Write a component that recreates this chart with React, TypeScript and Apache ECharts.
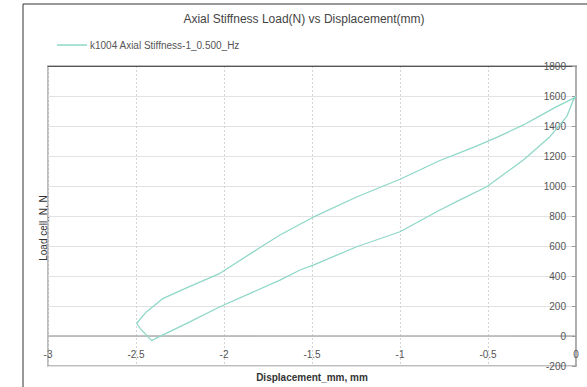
import React, { useEffect, useRef } from "react";
import * as echarts from "echarts";

const titleText = "Axial Stiffness Load(N) vs Displacement(mm)";
const seriesName = "k1004 Axial Stiffness-1_0.500_Hz";
const xAxisName = "Displacement_mm, mm";
const yAxisName = "Load cell_N, N";

// upper branch: from the lower-left tip to the peak
const upperX = [-2.496, -2.44, -2.345, -2.2, -2.023, -1.795, -1.682, -1.568, -1.493, -1.25, -1.0, -0.773, -0.659, -0.583, -0.45, -0.299, -0.2, -0.11, -0.015, 0];
const upperY = [85, 162, 251, 327, 418, 590, 673, 745, 792, 925, 1045, 1170, 1222, 1258, 1324, 1407, 1471, 1529, 1584, 1600];
// lower branch: from the peak back to the lower-left tip
const lowerX = [-0.015, -0.053, -0.148, -0.299, -0.507, -0.659, -0.773, -1.0, -1.246, -1.493, -1.568, -1.682, -2.023, -2.2, -2.39, -2.411, -2.477, -2.496];
const lowerY = [1573, 1462, 1329, 1173, 995, 907, 840, 695, 595, 473, 440, 373, 195, 91, -18, -31, 51, 85];

export default function App() {
  const ref = useRef<HTMLDivElement>(null);
  useEffect(() => {
    if (!ref.current) return;
    const chart = echarts.init(ref.current, null, { renderer: "svg" });
    const data: number[][] = [];
    upperX.forEach((x, i) => data.push([x, upperY[i]]));
    lowerX.forEach((x, i) => data.push([x, lowerY[i]]));
    const font = "'Liberation Sans', Arial, sans-serif";
    chart.setOption({
      animation: false,
      backgroundColor: "#ffffff",
      textStyle: { fontFamily: font },
      grid: {
        left: 48,
        right: 11,
        top: 66,
        bottom: 21,
        outerBoundsMode: "none",
        containLabel: false,
        show: true,
        borderColor: "#a8a8a8",
        borderWidth: 1.5,
        backgroundColor: "transparent",
      },
      legend: {
        left: 52,
        top: 35,
        itemWidth: 30,
        itemHeight: 1.5,
        itemGap: 4,
        icon: "rect",
        textStyle: { fontSize: 10, color: "#555", fontFamily: font, padding: [0, 0, 0, -2] },
        data: [seriesName],
      },
      xAxis: [
        {
          type: "value",
          min: -3,
          max: 0,
          interval: 0.5,
          axisLine: { show: true, onZero: true, lineStyle: { color: "#b0b0b0", width: 1.5 } },
          axisTick: { show: false },
          axisLabel: { margin: -17, fontSize: 10, color: "#555", fontFamily: font },
          splitLine: { show: true, lineStyle: { color: "#d4d4d4", type: [2, 2], width: 1 } },
        },
        {
          type: "value",
          min: -3,
          max: 0,
          position: "top",
          axisLine: { show: true, onZero: false, lineStyle: { color: "#555", width: 1 } },
          axisTick: { show: false },
          axisLabel: { show: false },
          splitLine: { show: false },
        },
      ],
      yAxis: {
        type: "value",
        min: -200,
        max: 1800,
        interval: 200,
        position: "right",
        axisLine: { show: true, onZero: false, lineStyle: { color: "#a8a8a8", width: 1.5 } },
        axisTick: { show: true, inside: true, length: 4, lineStyle: { color: "#999" } },
        axisLabel: {
          inside: true,
          margin: 10,
          fontSize: 10,
          color: "#555",
          fontFamily: font,
          formatter: (v: number) => String(v),
        },
        splitLine: { show: true, lineStyle: { color: "#e2e2e2", width: 1 } },
      },
      graphic: [
        {
          type: "rect",
          shape: { x: 23, y: 4, width: 620, height: 420 },
          style: { fill: "none", stroke: "#333", lineWidth: 1 },
          silent: true,
        },
        {
          type: "text",
          x: 304,
          y: 19,
          style: {
            text: titleText,
            fontSize: 12,
            fill: "#444",
            fontFamily: font,
            textAlign: "center",
            textVerticalAlign: "middle",
          },
        },
        {
          type: "text",
          x: 43,
          y: 228,
          rotation: Math.PI / 2,
          style: {
            text: yAxisName,
            fontSize: 10,
            fill: "#333",
            fontFamily: font,
            textAlign: "center",
            textVerticalAlign: "middle",
          },
        },
        {
          type: "text",
          x: 312,
          y: 377,
          style: {
            text: xAxisName,
            fontSize: 10,
            fontWeight: "bold",
            fill: "#333",
            fontFamily: font,
            textAlign: "center",
            textVerticalAlign: "middle",
          },
        },
      ],
      series: [
        {
          name: seriesName,
          type: "line",
          xAxisIndex: 0,
          data,
          symbol: "none",
          smooth: false,
          lineStyle: { color: "#8fd8c8", width: 1.3 },
          itemStyle: { color: "#8fd8c8" },
        },
      ],
    });
    return () => chart.dispose();
  }, []);
  return (
    <div
      ref={ref}
      style={{ position: "fixed", left: 0, top: 0, width: 587, height: 387, background: "#fff" }}
    />
  );
}
